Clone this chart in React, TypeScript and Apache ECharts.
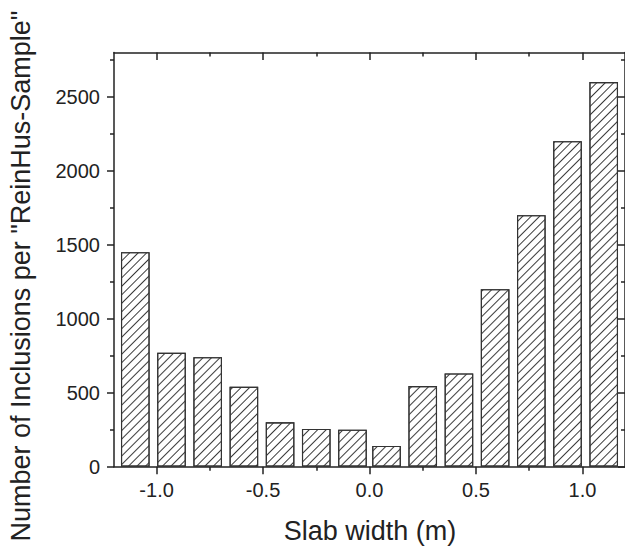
import React, { useEffect, useRef } from "react";
import * as echarts from "echarts";

const xPositions = [-1.1, -0.93, -0.76, -0.59, -0.42, -0.25, -0.08, 0.08, 0.25, 0.42, 0.59, 0.76, 0.93, 1.1];
const counts = [1450, 770, 740, 540, 300, 255, 250, 140, 545, 630, 1200, 1700, 2200, 2600];
const xMajorTicks = [-1.0, -0.5, 0.0, 0.5, 1.0];
const xMinorTicks = [-0.75, -0.25, 0.25, 0.75];
const yMajorTicks = [0, 500, 1000, 1500, 2000, 2500];
const yMinorTicks = [250, 750, 1250, 1750, 2250, 2750];
const xTitle = "Slab width (m)";
const yTitle = 'Number of Inclusions per "ReinHus-Sample"';

const FONT = "'Liberation Sans', Arial, Helvetica, sans-serif";
const AX = "#222";

export default function App() {
  const ref = useRef<HTMLDivElement>(null);
  useEffect(() => {
    if (!ref.current) return;
    const chart = echarts.init(ref.current, undefined, { renderer: "svg" });
    const lineStyle = { color: AX, width: 1.5 };
    const xBase = {
      type: "value",
      gridIndex: 0,
      min: -1.2,
      max: 1.2,
      splitLine: { show: false },
      axisLine: { show: false, onZero: false, lineStyle },
      axisLabel: { show: false },
    };
    const yBase = {
      type: "value",
      gridIndex: 0,
      min: 0,
      max: 2800,
      splitLine: { show: false },
      axisLine: { show: false, onZero: false, lineStyle },
      axisLabel: { show: false },
    };
    chart.setOption({
      animation: false,
      backgroundColor: "#fff",
      grid: { left: 114, top: 52.5, width: 511.6, height: 414.2, containLabel: false },
      xAxis: [
        {
          ...xBase,
          position: "bottom",
          axisLine: { show: true, onZero: false, lineStyle },
          axisTick: { show: true, inside: false, length: 7.5, lineStyle, customValues: xMajorTicks },
          axisLabel: {
            show: true,
            margin: 13,
            fontSize: 20,
            fontFamily: FONT,
            color: AX,
            customValues: xMajorTicks,
            formatter: (v: number) => Number(v).toFixed(1),
          },
        },
        {
          ...xBase,
          position: "bottom",
          axisTick: { show: true, inside: false, length: 4, lineStyle, customValues: xMinorTicks },
        },
        {
          ...xBase,
          position: "top",
          axisLine: { show: true, onZero: false, lineStyle },
          axisTick: { show: true, inside: true, length: 7.5, lineStyle, customValues: xMajorTicks },
        },
        {
          ...xBase,
          position: "top",
          axisTick: { show: true, inside: true, length: 4, lineStyle, customValues: xMinorTicks },
        },
      ],
      yAxis: [
        {
          ...yBase,
          position: "left",
          axisLine: { show: true, onZero: false, lineStyle },
          axisTick: { show: true, inside: false, length: 7, lineStyle, customValues: yMajorTicks },
          axisLabel: {
            show: true,
            margin: 14,
            fontSize: 20,
            fontFamily: FONT,
            color: AX,
            customValues: yMajorTicks,
            formatter: (v: number) => String(v),
          },
        },
        {
          ...yBase,
          position: "left",
          axisTick: { show: true, inside: false, length: 4, lineStyle, customValues: yMinorTicks },
        },
        {
          ...yBase,
          position: "right",
          axisLine: { show: true, onZero: false, lineStyle },
          axisTick: { show: true, inside: true, length: 7, lineStyle, customValues: yMajorTicks },
        },
        {
          ...yBase,
          position: "right",
          axisTick: { show: true, inside: true, length: 4, lineStyle, customValues: yMinorTicks },
        },
      ],
      series: [
        {
          type: "bar",
          xAxisIndex: 0,
          yAxisIndex: 0,
          barWidth: 28.6,
          data: xPositions.map((x, i) => [x, counts[i]]),
          itemStyle: {
            color: "#fff",
            borderColor: "#333",
            borderWidth: 1.1,
            decal: {
              symbol: "rect",
              symbolSize: 1,
              color: "#3a3a3a",
              backgroundColor: "#fff",
              dashArrayX: [1, 0],
              dashArrayY: [0.8, 4.4],
              rotation: -Math.PI / 4,
            },
          },
        },
      ],
      graphic: [
        {
          type: "text",
          x: 370,
          y: 531,
          style: {
            text: xTitle,
            fontSize: 27,
            fontFamily: FONT,
            fill: AX,
            textAlign: "center",
            textVerticalAlign: "middle",
          },
        },
        {
          type: "text",
          x: 21,
          y: 276,
          rotation: Math.PI / 2,
          style: {
            text: yTitle,
            fontSize: 27,
            fontFamily: FONT,
            fill: AX,
            textAlign: "center",
            textVerticalAlign: "middle",
          },
        },
      ],
    });
    return () => chart.dispose();
  }, []);
  return (
    <div
      ref={ref}
      style={{ position: "fixed", left: 0, top: 0, width: 625, height: 546, background: "#fff" }}
    />
  );
}
